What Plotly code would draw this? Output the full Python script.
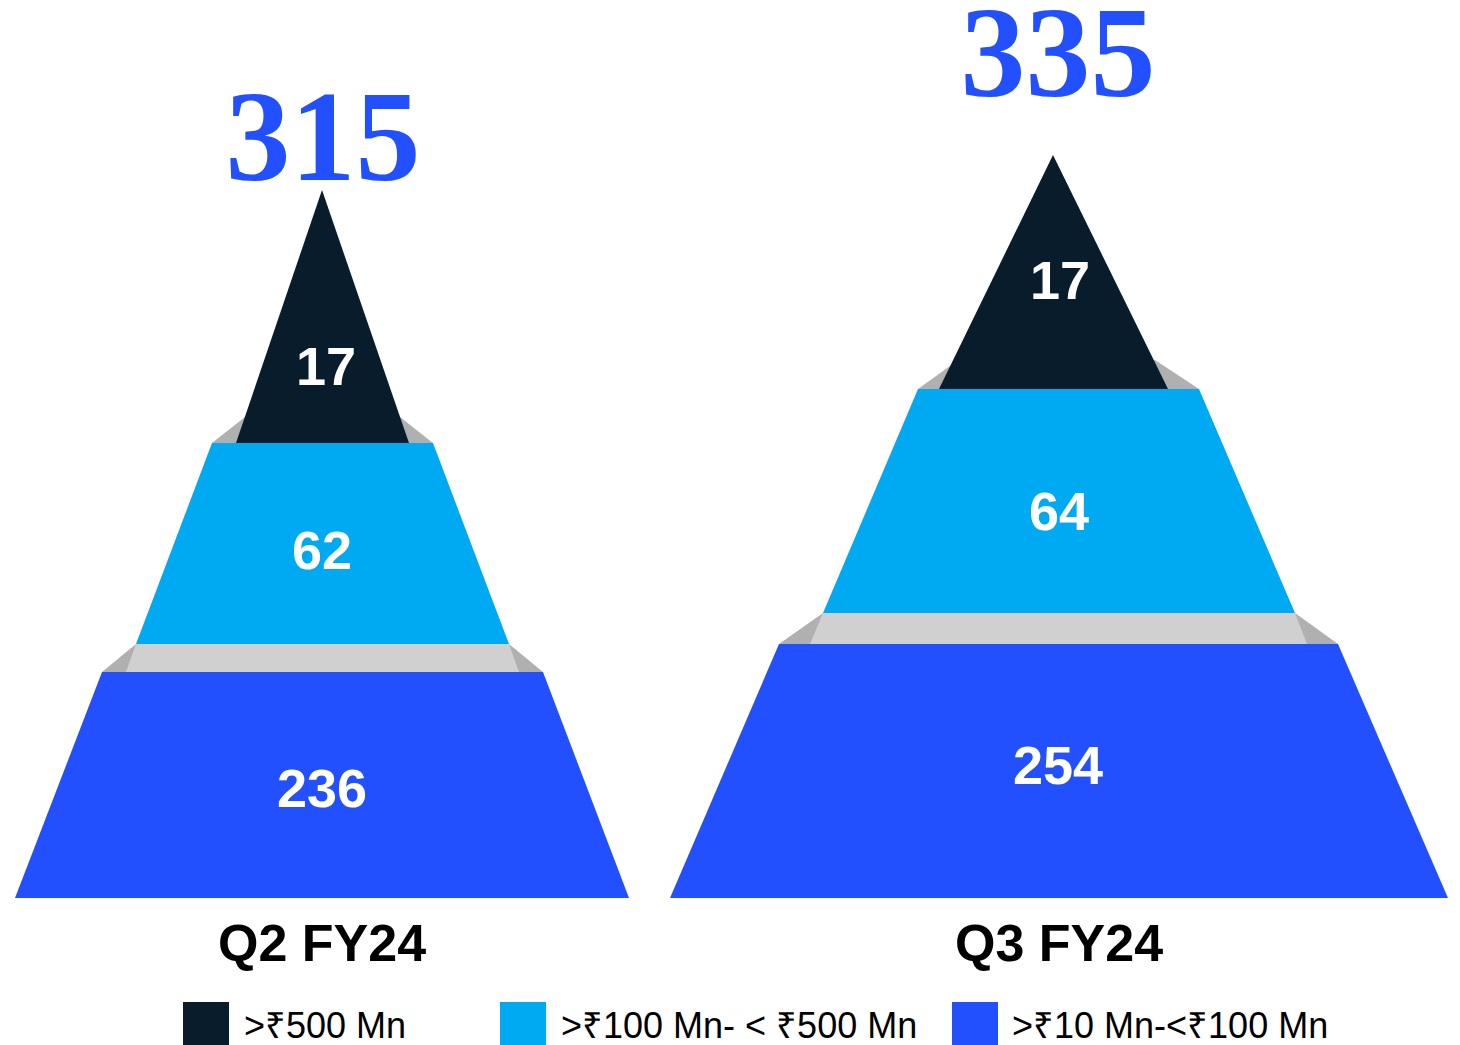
import plotly.graph_objects as go

# ---------------- DATA ----------------
categories = ["Q2 FY24", "Q3 FY24"]
totals = [315, 335]
tier_names = [">₹500 Mn", ">₹100 Mn- < ₹500 Mn", ">₹10 Mn-<₹100 Mn"]
tier_top = [17, 17]        # >₹500 Mn
tier_mid = [62, 64]        # >₹100 Mn - <₹500 Mn
tier_bottom = [236, 254]   # >₹10 Mn - <₹100 Mn

# ---------------- STYLE ----------------
C_DARK = "#081C2C"
C_CYAN = "#00AAF2"
C_BLUE = "#2250FF"
C_GREY_L = "#D0D0D0"
C_GREY_D = "#B0B0B0"
tier_colors = [C_DARK, C_CYAN, C_BLUE]

W, H = 1460, 1045
PAGE_OFF = 8  # default body margin of the html page

# ---------------- LAYOUT GEOMETRY (page-pixel space, per pyramid) ----------------
geom = [
    dict(apex=(322, 190), dark_y=443, dark_l=236, dark_r=409,
         bev_y_l=417, bev_x_l=245, bev_y_r=417, bev_x_r=400,
         cyan_top=(212, 433), cyan_bot_y=644, cyan_bot=(136, 509),
         band_bot=(126, 519), blue_y=672, blue_top=(102, 543),
         base_y=898, base=(15, 629),
         lab_x=[326, 322, 322], lab_y=[366, 550, 788],
         total_xy=(323, 147), cat_xy=(322, 943)),
    dict(apex=(1053, 155), dark_y=389, dark_l=939, dark_r=1168,
         bev_y_l=366, bev_x_l=950, bev_y_r=360, bev_x_r=1155,
         cyan_top=(918, 1199), cyan_bot_y=613, cyan_bot=(823, 1295),
         band_bot=(810, 1307), blue_y=644, blue_top=(779, 1338),
         base_y=898, base=(670, 1448),
         lab_x=[1060, 1059, 1058], lab_y=[280, 511, 765],
         total_xy=(1058, 63), cat_xy=(1059, 943)),
]

legend_sq_x = [206, 523, 975]
legend_txt_x = [242, 559, 1010]
legend_y = 1025

fig = go.Figure()


def poly(xs, ys, color):
    fig.add_trace(go.Scatter(
        x=list(xs) + [xs[0]], y=list(ys) + [ys[0]], mode="lines",
        fill="toself", fillcolor=color, line=dict(width=0, color=color),
        hoverinfo="skip", showlegend=False))


annotations = []
for i, g in enumerate(geom):
    # top bevel (behind the dark triangle)
    poly([g["bev_x_l"], g["bev_x_r"], g["cyan_top"][1], g["cyan_top"][0]],
         [g["bev_y_l"], g["bev_y_r"], g["dark_y"], g["dark_y"]], C_GREY_D)
    # dark top triangle
    poly([g["apex"][0], g["dark_r"], g["dark_l"]],
         [g["apex"][1], g["dark_y"], g["dark_y"]], tier_colors[0])
    # cyan middle trapezoid
    poly([g["cyan_top"][0], g["cyan_top"][1], g["cyan_bot"][1], g["cyan_bot"][0]],
         [g["dark_y"], g["dark_y"], g["cyan_bot_y"], g["cyan_bot_y"]], tier_colors[1])
    # lower bevel band: dark grey sides + light grey face
    poly([g["cyan_bot"][0], g["cyan_bot"][1], g["blue_top"][1], g["blue_top"][0]],
         [g["cyan_bot_y"], g["cyan_bot_y"], g["blue_y"], g["blue_y"]], C_GREY_D)
    poly([g["cyan_bot"][0], g["cyan_bot"][1], g["band_bot"][1], g["band_bot"][0]],
         [g["cyan_bot_y"], g["cyan_bot_y"], g["blue_y"], g["blue_y"]], C_GREY_L)
    # blue bottom trapezoid
    poly([g["blue_top"][0], g["blue_top"][1], g["base"][1], g["base"][0]],
         [g["blue_y"], g["blue_y"], g["base_y"], g["base_y"]], tier_colors[2])

    # tier value labels
    vals = [tier_top[i], tier_mid[i], tier_bottom[i]]
    for v, lx, ly in zip(vals, g["lab_x"], g["lab_y"]):
        annotations.append(dict(
            x=lx, y=ly, text=f"<b>{v}</b>", showarrow=False,
            xanchor="center", yanchor="middle",
            font=dict(family="Liberation Sans, Arial, sans-serif", size=54, color="white")))
    # category label
    annotations.append(dict(
        x=g["cat_xy"][0], y=g["cat_xy"][1], text=f"<b>{categories[i]}</b>",
        showarrow=False, xanchor="center", yanchor="middle",
        font=dict(family="Liberation Sans, Arial, sans-serif", size=52, color="black")))

# totals above each pyramid
fig.add_trace(go.Scatter(
    x=[g["total_xy"][0] for g in geom], y=[g["total_xy"][1] for g in geom],
    mode="text", text=[f"<b>{t}</b>" for t in totals], textposition="middle center",
    textfont=dict(family="Liberation Serif, Times New Roman, serif", size=130, color=C_BLUE),
    hoverinfo="skip", showlegend=False, cliponaxis=False))

# custom legend
fig.add_trace(go.Scatter(
    x=legend_sq_x, y=[legend_y] * 3, mode="markers",
    marker=dict(symbol="square", size=46, color=tier_colors, line=dict(width=0)),
    hoverinfo="skip", showlegend=False, cliponaxis=False))
for name, tx in zip(tier_names, legend_txt_x):
    annotations.append(dict(
        x=tx, y=legend_y, text=name, showarrow=False,
        xanchor="left", yanchor="middle",
        font=dict(family="Liberation Sans, Arial, sans-serif", size=36, color="black")))

fig.update_layout(
    width=W - 2 * PAGE_OFF, height=H - PAGE_OFF,
    margin=dict(l=0, r=0, t=0, b=0),
    paper_bgcolor="white", plot_bgcolor="white",
    xaxis=dict(range=[PAGE_OFF, W - PAGE_OFF], visible=False, fixedrange=True),
    yaxis=dict(range=[H, PAGE_OFF], visible=False, fixedrange=True),
    annotations=annotations,
    showlegend=False,
)

fig.write_html("out.html")
